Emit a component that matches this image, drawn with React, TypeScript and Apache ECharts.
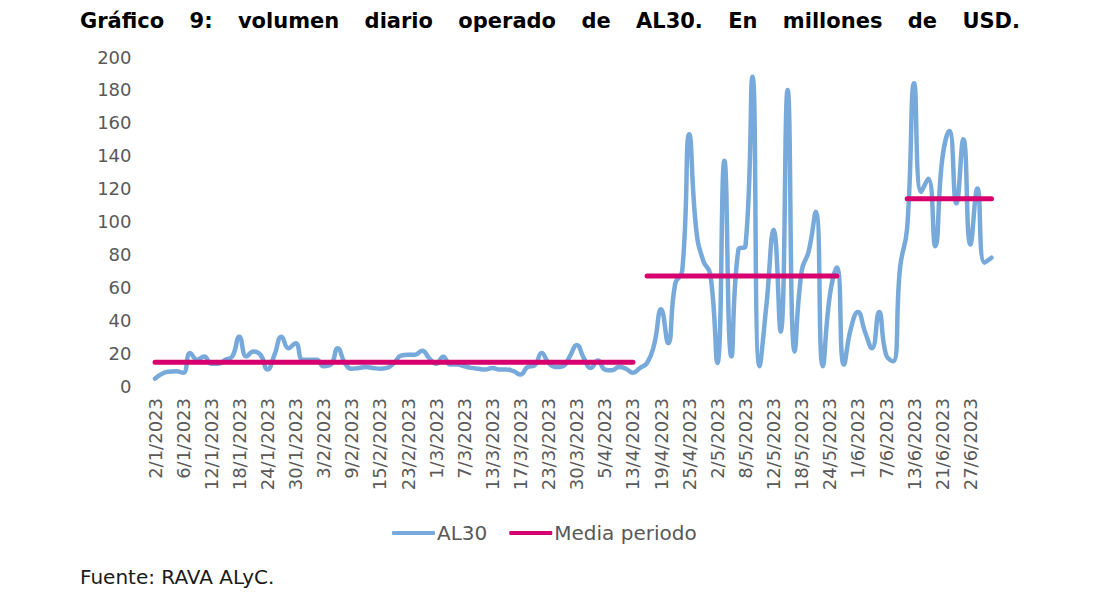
import { useEffect, useRef } from "react";
import * as echarts from "echarts";

// Días hábiles (ruedas) del primer semestre 2023
const fechas = [
  "2/1/2023", "3/1/2023", "4/1/2023", "5/1/2023", "6/1/2023", "9/1/2023", "10/1/2023", "11/1/2023",
  "12/1/2023", "13/1/2023", "16/1/2023", "17/1/2023", "18/1/2023", "19/1/2023", "20/1/2023", "23/1/2023",
  "24/1/2023", "25/1/2023", "26/1/2023", "27/1/2023", "30/1/2023", "31/1/2023", "1/2/2023", "2/2/2023",
  "3/2/2023", "6/2/2023", "7/2/2023", "8/2/2023", "9/2/2023", "10/2/2023", "13/2/2023", "14/2/2023",
  "15/2/2023", "16/2/2023", "17/2/2023", "22/2/2023", "23/2/2023", "24/2/2023", "27/2/2023", "28/2/2023",
  "1/3/2023", "2/3/2023", "3/3/2023", "6/3/2023", "7/3/2023", "8/3/2023", "9/3/2023", "10/3/2023",
  "13/3/2023", "14/3/2023", "15/3/2023", "16/3/2023", "17/3/2023", "20/3/2023", "21/3/2023", "22/3/2023",
  "23/3/2023", "27/3/2023", "28/3/2023", "29/3/2023", "30/3/2023", "31/3/2023", "3/4/2023", "4/4/2023",
  "5/4/2023", "10/4/2023", "11/4/2023", "12/4/2023", "13/4/2023", "14/4/2023", "17/4/2023", "18/4/2023",
  "19/4/2023", "20/4/2023", "21/4/2023", "24/4/2023", "25/4/2023", "26/4/2023", "27/4/2023", "28/4/2023",
  "2/5/2023", "3/5/2023", "4/5/2023", "5/5/2023", "8/5/2023", "9/5/2023", "10/5/2023", "11/5/2023",
  "12/5/2023", "15/5/2023", "16/5/2023", "17/5/2023", "18/5/2023", "19/5/2023", "22/5/2023", "23/5/2023",
  "24/5/2023", "29/5/2023", "30/5/2023", "31/5/2023", "1/6/2023", "2/6/2023", "5/6/2023", "6/6/2023",
  "7/6/2023", "8/6/2023", "9/6/2023", "12/6/2023", "13/6/2023", "14/6/2023", "15/6/2023", "16/6/2023",
  "21/6/2023", "22/6/2023", "23/6/2023", "26/6/2023", "27/6/2023", "28/6/2023", "29/6/2023", "30/6/2023",
];

// Volumen diario AL30, millones de USD
const al30 = [
  4.5, 7.5, 8.7, 9, 8, 20, 16, 18, 13.5, 13.5, 16, 18, 30, 18, 21, 19,
  10, 19, 30, 23, 26, 16, 16, 16, 12, 13, 23, 14, 10.5, 11, 11.5, 11,
  10.5, 11, 14, 18.5, 19, 19, 21.5, 17, 13.5, 17.8, 13, 13, 12, 11, 10.5, 10,
  11, 10, 10, 9, 7, 11.5, 12.5, 20, 14, 11.5, 12, 18, 25, 17, 11, 15.5,
  10, 9.5, 11.5, 10.5, 8, 11, 14, 25, 46.6, 26, 62, 70, 153, 95, 76, 68,
  14, 137, 18, 83, 85, 188, 12, 50, 95, 33, 180, 21, 70, 82, 106, 12,
  55, 72, 13, 35, 45, 33, 23, 45, 19, 15, 72, 96, 184, 118, 126, 85,
  138, 155, 111, 150, 86, 120, 75, 78,
];

// Media de cada período: índice inicial, índice final y valor
const mediaInicio = [0, 70, 107];
const mediaFin = [68, 97, 119];
const mediaValor = [14.4, 66.9, 113.9];

const tituloPalabras = ["Gráfico", "9:", "volumen", "diario", "operado", "de", "AL30.", "En", "millones", "de", "USD."];

const FONT = '"DejaVu Sans", sans-serif';
const GRIS = "#595959";

export default function App() {
  const ref = useRef<HTMLDivElement>(null);

  useEffect(() => {
    if (!ref.current) return;
    const chart = echarts.init(ref.current, null, { renderer: "svg" });

    const media: (number | null)[] = fechas.map(() => null);
    mediaValor.forEach((v, k) => {
      for (let i = mediaInicio[k]; i <= mediaFin[k]; i++) media[i] = v;
    });

    // título justificado entre x=80 y x=1020
    const titleFont = `bold 21px ${FONT}`;
    const ctx = document.createElement("canvas").getContext("2d")!;
    ctx.font = titleFont;
    const widths = tituloPalabras.map(w => ctx.measureText(w).width);
    const left = 80, right = 1020;
    const gap = (right - left - widths.reduce((a, b) => a + b, 0)) / (tituloPalabras.length - 1);
    let cx = left;
    const titulo = tituloPalabras.map((w, i) => {
      const el = {
        type: "text",
        x: cx,
        y: 21,
        style: { text: w, font: titleFont, fill: "#000", verticalAlign: "middle" },
      };
      cx += widths[i] + gap;
      return el;
    });

    chart.setOption({
      animation: false,
      backgroundColor: "#fff",
      grid: { left: 151.5, right: 104, top: 57, bottom: 212, containLabel: false },
      xAxis: {
        type: "category",
        data: fechas,
        boundaryGap: true,
        axisLine: { show: false },
        axisTick: { show: false },
        axisLabel: { interval: 3, rotate: 90, margin: 12, color: GRIS, fontSize: 18, fontFamily: FONT },
        splitLine: { show: false },
      },
      yAxis: {
        type: "value",
        min: 0,
        max: 200,
        interval: 20,
        axisLine: { show: false },
        axisTick: { show: false },
        axisLabel: { margin: 20, color: GRIS, fontSize: 18, fontFamily: FONT },
        splitLine: { show: false },
      },
      legend: {
        data: ["AL30", "Media periodo"],
        left: 392,
        top: 523,
        padding: 0,
        icon: "roundRect",
        itemWidth: 43,
        itemHeight: 4,
        itemGap: 22,
        textStyle: { color: GRIS, fontSize: 20, fontFamily: FONT, padding: [0, 0, 0, -3] },
      },
      graphic: [
        ...titulo,
        {
          type: "text",
          x: 80,
          y: 577,
          style: { text: "Fuente: RAVA ALyC.", font: `20px ${FONT}`, fill: "#1a1a1a", verticalAlign: "middle" },
        },
      ],
      series: [
        {
          name: "AL30",
          type: "line",
          data: al30,
          smooth: true,
          symbol: "none",
          lineStyle: { color: "#77AADB", width: 4.5, cap: "round", join: "round" },
          itemStyle: { color: "#77AADB" },
          z: 2,
        },
        {
          name: "Media periodo",
          type: "line",
          data: media,
          connectNulls: false,
          symbol: "none",
          lineStyle: { color: "#D6006E", width: 5, cap: "round" },
          itemStyle: { color: "#D6006E" },
          z: 3,
        },
      ],
    });

    return () => chart.dispose();
  }, []);

  return (
    <div
      ref={ref}
      style={{ position: "fixed", left: 0, top: 0, width: 1099, height: 598, background: "#fff" }}
    />
  );
}
